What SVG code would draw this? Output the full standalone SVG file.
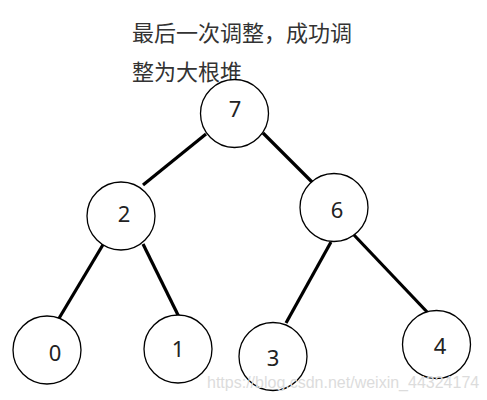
<svg xmlns="http://www.w3.org/2000/svg" width="487" height="400" viewBox="0 0 487 400">
<style>
.n{fill:#fff;stroke:#000;stroke-width:1.3}
.t{font-family:"Noto Sans","DejaVu Sans",sans-serif;font-size:22px;fill:#222;text-anchor:middle}
.c{stroke:#000;stroke-width:3.2;stroke-linecap:butt}
.cap{font-family:"Noto Sans CJK SC",sans-serif;font-size:22px;fill:#333}
.wm{font-family:"Liberation Sans",Arial,sans-serif;font-size:16px;fill:#dcdcdc}
</style>
<rect width="487" height="400" fill="#fff"/>
<text class="cap" x="132" y="41">最后一次调整，成功调</text>
<text class="cap" x="132" y="80">整为大根堆</text>
<g id="connectors">
<line class="c" x1="206" y1="134" x2="143" y2="185"/>
<line class="c" x1="263" y1="133" x2="316" y2="186"/>
<line class="c" x1="104" y1="243" x2="58" y2="320"/>
<line class="c" x1="143" y1="244" x2="179" y2="317"/>
<line class="c" x1="331" y1="242" x2="286" y2="323"/>
<line class="c" x1="354" y1="235" x2="429" y2="314"/>
</g>
<g id="node7"><circle class="n" cx="234.5" cy="113.5" r="34"/><text class="t" x="235" y="117">7</text></g>
<g id="node2"><circle class="n" cx="121" cy="216" r="34"/><text class="t" x="124" y="222">2</text></g>
<g id="node6"><circle class="n" cx="334" cy="207.5" r="34"/><text class="t" x="337" y="218">6</text></g>
<g id="node0"><circle class="n" cx="47" cy="350" r="34"/><text class="t" x="55" y="361">0</text></g>
<g id="node1"><circle class="n" cx="178" cy="349" r="34"/><text class="t" x="178" y="357">1</text></g>
<g id="node3"><circle class="n" cx="273" cy="356.5" r="34"/><text class="t" x="273" y="366">3</text></g>
<g id="node4"><circle class="n" cx="436.5" cy="344.5" r="34"/><text class="t" x="440" y="354">4</text></g>
<text class="wm" x="207" y="388">https://blog.csdn.net/weixin_44324174</text>
</svg>
